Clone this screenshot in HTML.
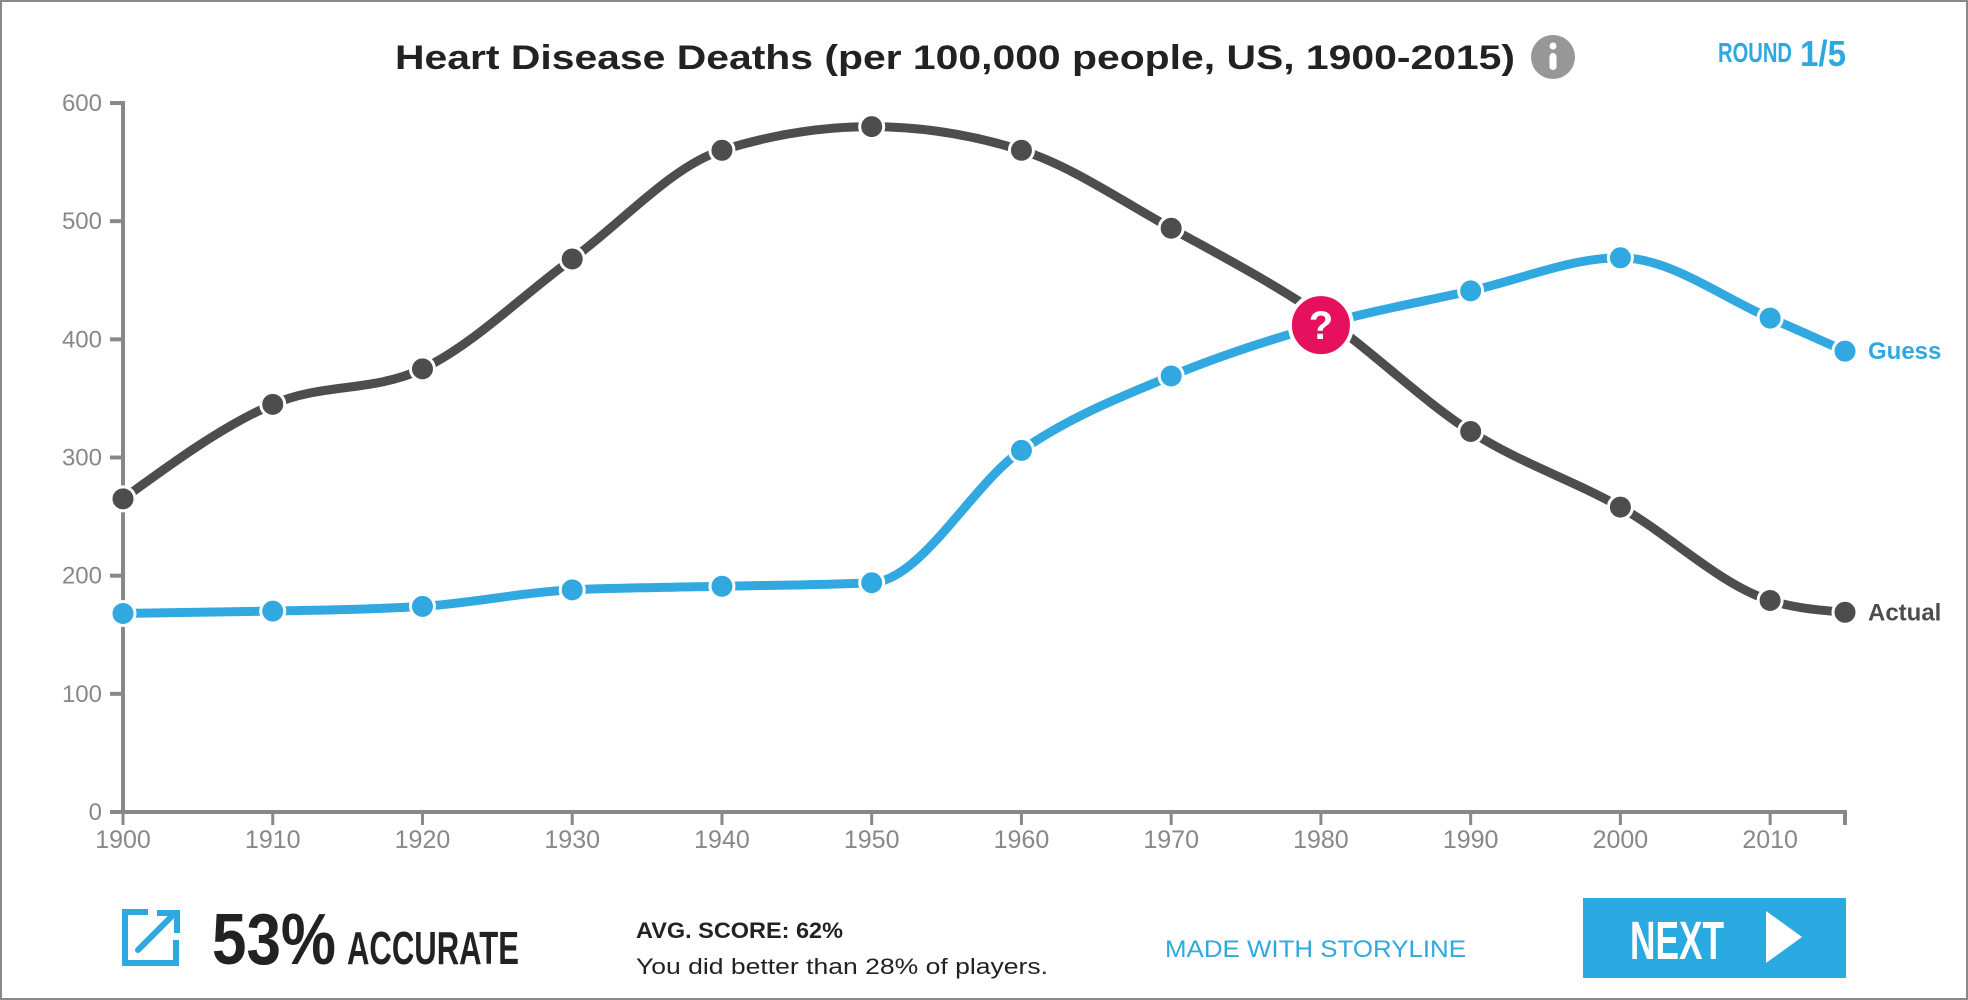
<!DOCTYPE html>
<html><head><meta charset="utf-8"><style>
html,body{margin:0;padding:0;background:#fff;}
svg{display:block;}
text{font-family:"Liberation Sans",sans-serif;}
.cond{font-family:"Liberation Sans Narrow","Liberation Sans",sans-serif;font-weight:bold;}
</style></head><body>
<svg id="chart" width="1968" height="1000" viewBox="0 0 1968 1000">
<rect x="1" y="1" width="1966" height="998" fill="#fff" stroke="#888" stroke-width="2"/>
<text x="395" y="69" font-size="34" font-weight="bold" fill="#222" textLength="1120" lengthAdjust="spacingAndGlyphs">Heart Disease Deaths (per 100,000 people, US, 1900-2015)</text>
<g><circle cx="1553" cy="57" r="22" fill="#979797"/><circle cx="1553" cy="46" r="3.5" fill="#fff"/><rect x="1549.5" y="53" width="7" height="17" rx="3.5" fill="#fff"/></g>
<g><text class="cond" x="1718" y="62" font-size="28" fill="#2fa8e0" textLength="74" lengthAdjust="spacingAndGlyphs">ROUND</text><text class="cond" x="1800" y="66" font-size="36" fill="#2fa8e0" textLength="46" lengthAdjust="spacingAndGlyphs">1/5</text></g>
<g id="axes"></g>
<g id="series"></g>
<g fill="none" stroke="#2fa8e0" stroke-width="6"><path d="M148 912 H125 V963 H176 V940"/><path d="M138 950 L172 916" stroke-linecap="round"/><path d="M160 913 H177 V930" stroke-linecap="square"/></g>
<text class="cond" x="212" y="964" font-size="72" fill="#222" textLength="124" lengthAdjust="spacingAndGlyphs">53%</text>
<text class="cond" x="347" y="964" font-size="46" fill="#222" textLength="172" lengthAdjust="spacingAndGlyphs">ACCURATE</text>
<text x="636" y="938" font-size="22" font-weight="bold" fill="#222" textLength="207" lengthAdjust="spacingAndGlyphs">AVG. SCORE: 62%</text>
<text x="636" y="974" font-size="22" fill="#222" textLength="412" lengthAdjust="spacingAndGlyphs">You did better than 28% of players.</text>
<text x="1165" y="957" font-size="24" fill="#2fa8e0" textLength="301" lengthAdjust="spacingAndGlyphs">MADE WITH STORYLINE</text>
<g><rect x="1583" y="898" width="263" height="80" fill="#2ba9e1"/><text class="cond" x="1630" y="959" font-size="54" fill="#fff" textLength="94" lengthAdjust="spacingAndGlyphs">NEXT</text><path d="M1766 911 L1802 937 L1766 963 Z" fill="#fff"/></g>
</svg>
<script>
const years=[1900,1910,1920,1930,1940,1950,1960,1970,1980,1990,2000,2010,2015];
const actual=[265,345,375,468,560,580,560,494,420,322,258,179,169];
const guess=[168,170,174,188,191,194,306,369,412,441,469,418,390];
const xTicks=[1900,1910,1920,1930,1940,1950,1960,1970,1980,1990,2000,2010];
const yTicks=[0,100,200,300,400,500,600];
const NS="http://www.w3.org/2000/svg";
const X0=123,X1=1845,Y0=812,Y1=103;
function xs(v){return X0+(v-1900)/(2015-1900)*(X1-X0);}
function ys(v){return Y0-v/600*(Y0-Y1);}
function mk(t,a,p){const e=document.createElementNS(NS,t);for(const k in a)e.setAttribute(k,a[k]);p.appendChild(e);return e;}
const ax=document.getElementById('axes');
const yl=mk('path',{d:`M110 ${Y1} H${X0} V${Y0} H${X1} V${Y0+13}`,fill:'none',stroke:'#888','stroke-width':4},ax);


yTicks.forEach(v=>{
 const t=mk('path',{d:`M110 ${ys(v)} H${X0}`,stroke:'#888','stroke-width':4},ax);
 
 
 const l=mk('text',{x:102,y:ys(v)+8,'text-anchor':'end','font-size':24,fill:'#888'},ax);
 l.textContent=v;
 
 
});
xTicks.forEach(v=>{
 const t=mk('path',{d:`M${xs(v)} ${Y0} V${Y0+13}`,stroke:'#888','stroke-width':3},ax);
 
 
 const l=mk('text',{x:xs(v),y:Y0+36,'text-anchor':'middle','font-size':25,fill:'#888'},ax);
 l.textContent=v;
 
 
});
function monotone(px,py){
 const n=px.length,d=[],m=[];
 for(let i=0;i<n-1;i++)d.push((py[i+1]-py[i])/(px[i+1]-px[i]));
 for(let i=0;i<n;i++){
  if(i==0)m.push(d[0]);else if(i==n-1)m.push(d[n-2]);
  else{ if(d[i-1]*d[i]<=0)m.push(0);else{const h0=px[i]-px[i-1],h1=px[i+1]-px[i];const p=(d[i-1]*h1+d[i]*h0)/(h0+h1);
   m.push((Math.sign(d[i-1])+Math.sign(d[i]))*Math.min(Math.abs(d[i-1]),Math.abs(d[i]),0.5*Math.abs(p)));}}
 }
 m[0]=(3*d[0]-m[1])/2; m[n-1]=(3*d[n-2]-m[n-2])/2;
 let s=`M${px[0]} ${py[0]}`;
 for(let i=0;i<n-1;i++){const h=(px[i+1]-px[i])/3;s+=` C${px[i]+h} ${py[i]+h*m[i]} ${px[i+1]-h} ${py[i+1]-h*m[i+1]} ${px[i+1]} ${py[i+1]}`;}
 return s;
}
const sg=document.getElementById('series');
function series(vals,color,name,label,skip){
 const px=years.map(xs),py=vals.map(ys);
 const p=mk('path',{d:monotone(px,py),fill:'none',stroke:color,'stroke-width':9,'stroke-linecap':'round'},sg);
 
 
 vals.forEach((v,i)=>{ if(i===skip)return;
  const c=mk('circle',{cx:px[i],cy:py[i],r:12,fill:color,stroke:'#fff','stroke-width':3},sg);
  
  
 });
 const t=mk('text',{x:px[px.length-1]+23,y:py[py.length-1]+8,'font-size':24,fill:color,class:'cond'},sg);
 t.textContent=label;
 
 
}
series(actual,'#4d4d4d','actual','Actual',8);
series(guess,'#31a9e0','guess','Guess',8);
const qx=xs(years[8]),qy=ys(guess[8]);
const qc=mk('circle',{cx:qx,cy:qy,r:31,fill:'#e5105e',stroke:'#fff','stroke-width':4},sg);


const qt=mk('text',{x:qx,y:qy+14,'text-anchor':'middle','font-size':40,'font-weight':'bold',fill:'#fff'},sg);
qt.textContent='?';


</script>
</body></html>
